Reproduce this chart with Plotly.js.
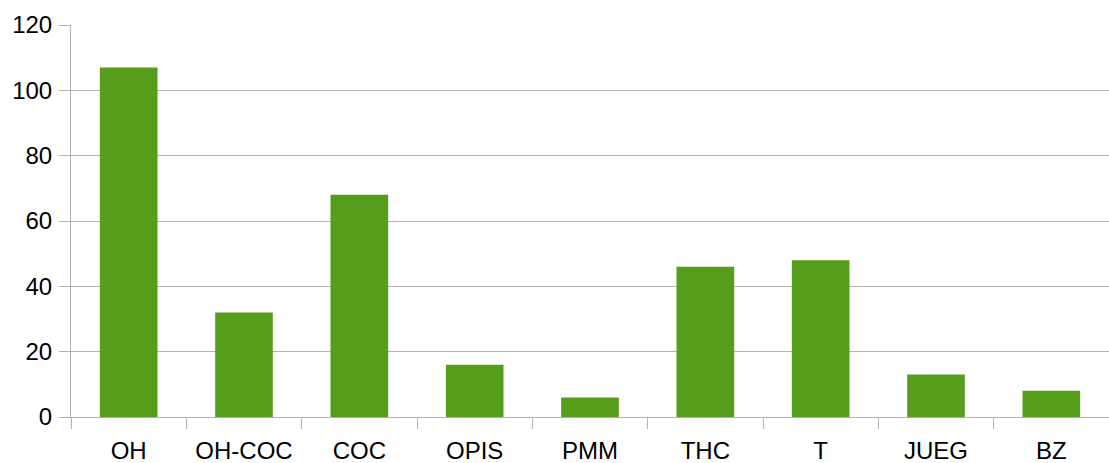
<!DOCTYPE html>
<html><head><meta charset="utf-8">
<script src="https://cdn.plot.ly/plotly-3.0.1.min.js"></script>
<style>html,body{margin:0;padding:0;background:#fff}#c{width:1109px;height:463px}</style>
</head><body><div id="c"></div>
<script>
const categories = ["OH","OH-COC","COC","OPIS","PMM","THC","T","JUEG","BZ"];
const values = [107,32,68,16,6,46,48,13,8];
const yTicks = [0,20,40,60,80,100,120];

Plotly.newPlot('c', [{
  type: 'bar', x: categories, y: values,
  marker: {color: '#579d1c'}, hoverinfo: 'x+y'
}], {
  width: 1109, height: 463,
  margin: {l: 71, r: 0, t: 25, b: 46},
  paper_bgcolor: '#fff', plot_bgcolor: '#fff',
  bargap: 0.5,
  font: {family: 'Liberation Sans, Arial, sans-serif', size: 24, color: '#000'},
  xaxis: {
    type: 'category', tickson: 'boundaries', ticks: 'outside', ticklen: 11,
    tickcolor: '#b3b3b3', showline: true, linecolor: '#b3b3b3', linewidth: 1,
    showgrid: false, zeroline: false, ticklabelstandoff: 12
  },
  yaxis: {
    range: [0, 120], tickvals: yTicks, ticks: 'outside', ticklen: 11,
    tickcolor: '#b3b3b3', showline: true, linecolor: '#b3b3b3',
    gridcolor: '#b3b3b3', zeroline: false, ticklabelstandoff: 2
  },
  showlegend: false
}, {displayModeBar: false, staticPlot: true});
</script></body></html>
